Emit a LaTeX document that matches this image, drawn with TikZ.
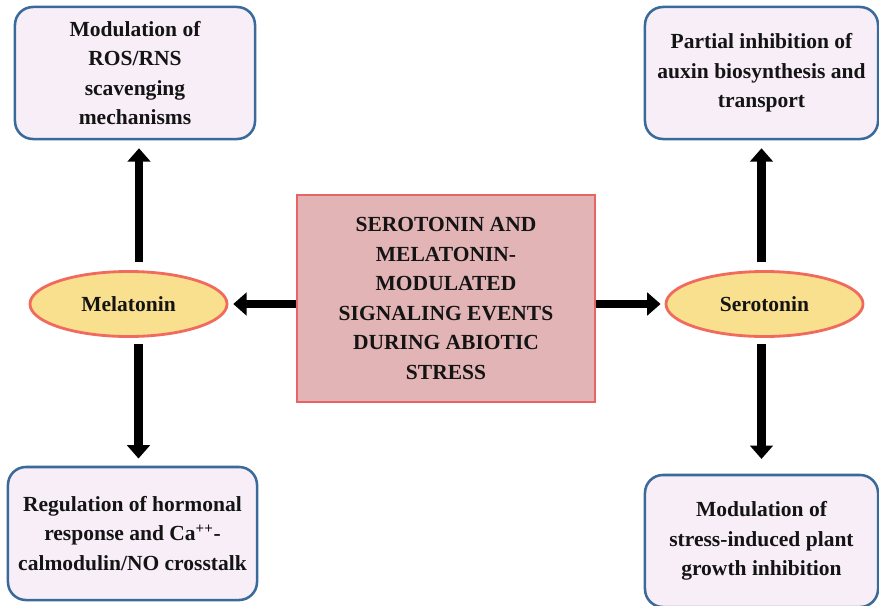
\documentclass[tikz,border=0pt]{standalone}
\usepackage{fontspec}
\setmainfont{Liberation Serif}
\usepackage{xcolor}
\usepackage{tikz}
\usetikzlibrary{positioning,arrows.meta,shapes.geometric}
\definecolor{BoxEdge}{HTML}{3A6A9A}
\definecolor{BoxBg}{HTML}{F8EEF8}
\definecolor{CoreEdge}{HTML}{E86464}
\definecolor{CoreBg}{HTML}{E2B4B6}
\definecolor{OvalEdge}{HTML}{F06A5E}
\definecolor{OvalBg}{HTML}{F9E08F}
\definecolor{TextDark}{HTML}{141414}
\begin{document}
\begin{tikzpicture}[x=0.025cm, y=-0.025cm,
    every node/.style={font=\fontsize{15.3}{21}\selectfont\bfseries, text=TextDark, align=center},
    effect/.style={draw=BoxEdge, fill=BoxBg, line width=1.8pt, rounded corners=0.45cm, inner sep=2pt},
    oval/.style={ellipse, draw=OvalEdge, fill=OvalBg, line width=2pt,
                 minimum width=4.925cm, minimum height=1.625cm, inner sep=0pt},
    ar/.style={-{Triangle[length=9.5pt,width=16pt]}, line width=6pt, black}]
  \useasboundingbox (0,0) rectangle (879,605);
  % central box
  \node[draw=CoreEdge, fill=CoreBg, line width=2pt,
        minimum width=7.45cm, minimum height=5.175cm]
    (core) at (446,298.5)
    {SEROTONIN AND\\MELATONIN-\\MODULATED\\SIGNALING EVENTS\\DURING ABIOTIC\\STRESS};
  % the two hormones
  \node[oval] (mel) at (128.5,304) {Melatonin};
  \node[oval] (sero) at (764.5,304) {Serotonin};
  % effects
  \node[effect, minimum width=6cm, minimum height=3.3cm]
    (ros) at (135,73) {Modulation of\\ROS/RNS\\scavenging\\mechanisms};
  \node[effect, minimum width=6.225cm, minimum height=3.325cm]
    (horm) at (132.5,533.5)
    {Regulation of hormonal\\response and Ca\textsuperscript{++}-\\calmodulin/NO crosstalk};
  \node[effect, minimum width=5.825cm, minimum height=3.3cm]
    (aux) at (761.5,73) {Partial inhibition of\\auxin biosynthesis and\\transport};
  \node[effect, minimum width=5.825cm, minimum height=3.3cm]
    (grow) at (761.5,541)
    {Modulation of\\stress-induced plant\\growth inhibition};
  \draw[ar, shorten >=0.12cm] (core.west |- mel.east) -- (mel.east);
  \draw[ar, shorten >=0.1cm] (core.east |- sero.west) -- (sero.west);
  \draw[ar, shorten <=0.21cm, shorten >=0.2cm]
    ([xshift=0.1cm]mel.north -| ros.south) -- ([xshift=0.1cm]ros.south);
  \draw[ar, shorten <=0.15cm, shorten >=0.18cm]
    ([xshift=0.15cm]mel.south -| horm.north) -- ([xshift=0.15cm]horm.north);
  \draw[ar, shorten <=0.21cm, shorten >=0.2cm] (sero.north -| aux.south) -- (aux.south);
  \draw[ar, shorten <=0.15cm, shorten >=0.37cm] (sero.south -| grow.north) -- (grow.north);
\end{tikzpicture}
\end{document}
